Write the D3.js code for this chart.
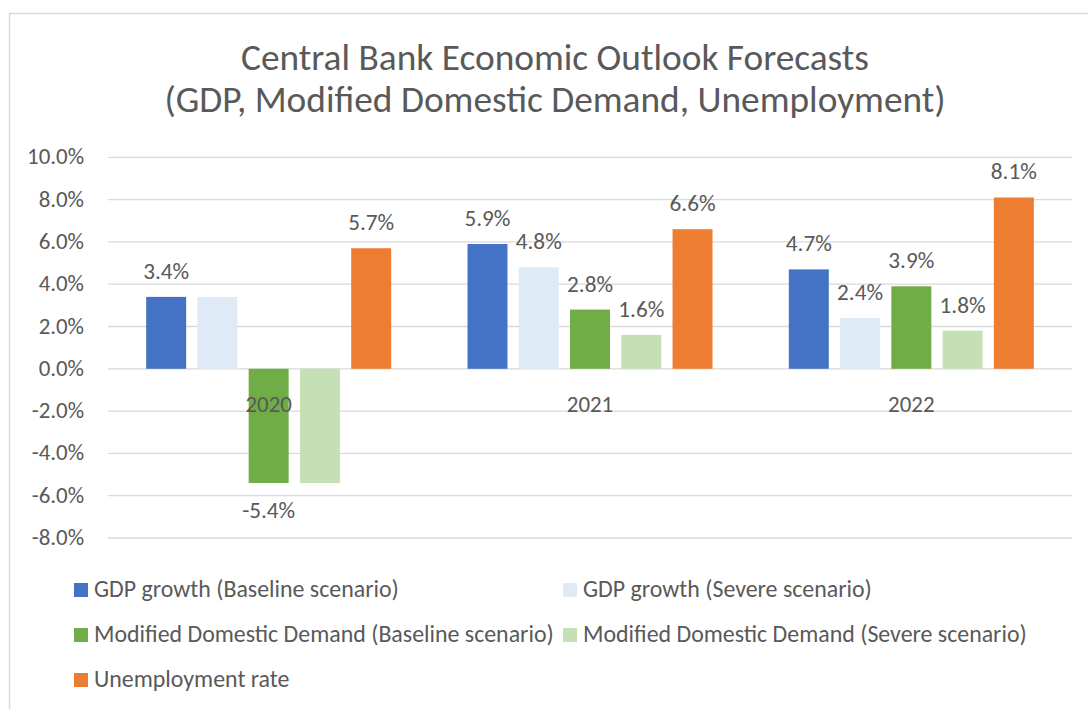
<!DOCTYPE html>
<html lang="en">
<head>
  <meta charset="utf-8">
  <script src="https://d3js.org/d3.v7.min.js"></script>
  <style>
    body { margin: 0; background: #fff; }
    text { fill: #595959; }
  </style>
</head>
<body>
  <div id="chart"></div>
  <script>
  const width = 1088
  const height = 709
  const FONT = "Carlito, Lato, 'Open Sans', sans-serif"

  // data
  const years = ["2020", "2021", "2022"]
  const seriesNames = [
    "GDP growth (Baseline scenario)",
    "GDP growth (Severe scenario)",
    "Modified Domestic Demand (Baseline scenario)",
    "Modified Domestic Demand (Severe scenario)",
    "Unemployment rate"
  ]
  const gdpBaseline = [3.4, 5.9, 4.7]
  const gdpSevere = [3.4, 4.8, 2.4]
  const mddBaseline = [-5.4, 2.8, 3.9]
  const mddSevere = [-5.4, 1.6, 1.8]
  const unemployment = [5.7, 6.6, 8.1]
  const seriesValues = [gdpBaseline, gdpSevere, mddBaseline, mddSevere, unemployment]
  const colors = ["#4472C4", "#DEEBF7", "#70AD47", "#C5E0B4", "#ED7D31"]
  const yTicks = [-8, -6, -4, -2, 0, 2, 4, 6, 8, 10]
  // labels that the original chart hides (they sit on top of a neighbour's label)
  const hiddenLabels = [[1, "2020"], [3, "2020"]]

  const pct = d => d.toFixed(1) + "%"

  const svg = d3.select("#chart").append("svg")
    .attr("width", width)
    .attr("height", height)

  // chart border (cropped on the right and bottom like the screenshot)
  svg.append("rect")
    .attr("x", 9.5).attr("y", 13.5)
    .attr("width", 1200).attr("height", 800)
    .attr("fill", "none")
    .attr("stroke", "#D9D9D9")
    .attr("stroke-width", 1.5)

  function fit(text, target) {
    const t = svg.append("text").style("font-family", FONT).style("font-size", "20px").text(text)
    const w = t.node().getComputedTextLength()
    t.remove()
    return 20 * target / w
  }

  const titleSize = fit("Central Bank Economic Outlook Forecasts", 628)
  const tickSize = fit("10.0%", 57)
  const labelSize = fit("5.9%", 46)
  const legendSize = fit("GDP growth (Baseline scenario)", 305)

  //////////////////////// Title ////////////////////////
  const title = svg.append("text")
    .attr("text-anchor", "middle")
    .style("font-family", FONT)
    .style("font-size", titleSize + "px")
  title.append("tspan").attr("x", 555).attr("y", 70).text("Central Bank Economic Outlook Forecasts")
  title.append("tspan").attr("x", 555).attr("y", 112).text("(GDP, Modified Domestic Demand, Unemployment)")

  //////////////////////// Scales ////////////////////////
  const x0 = d3.scaleBand()
    .domain(years)
    .range([108, 1072])
    .paddingInner(0.2375)
    .paddingOuter(0.2375 / 2)

  const x1 = d3.scaleBand()
    .domain(d3.range(seriesNames.length))
    .range([0, x0.bandwidth()])
    .paddingInner(0.22)

  const y = d3.scaleLinear()
    .domain([-8, 10])
    .range([538, 157.3])

  //////////////////////// Gridlines + y axis ////////////////////////
  svg.append("g").selectAll("line")
    .data(yTicks)
    .join("line")
    .attr("x1", 108).attr("x2", 1072)
    .attr("y1", d => y(d)).attr("y2", d => y(d))
    .attr("stroke", "#D9D9D9")
    .attr("stroke-width", 1.3)

  svg.append("g").selectAll("text")
    .data(yTicks)
    .join("text")
    .attr("x", 84)
    .attr("y", d => y(d) + 7)
    .attr("text-anchor", "end")
    .style("font-family", FONT)
    .style("font-size", tickSize + "px")
    .text(pct)

  //////////////////////// Bars ////////////////////////
  const barData = []
  years.forEach((yr, i) => {
    seriesValues.forEach((vals, s) => {
      barData.push({ year: yr, s: s, v: vals[i] })
    })
  })

  svg.append("g").selectAll("rect")
    .data(barData)
    .join("rect")
    .attr("x", d => x0(d.year) + x1(d.s))
    .attr("width", x1.bandwidth())
    .attr("y", d => y(Math.max(0, d.v)))
    .attr("height", d => Math.abs(y(d.v) - y(0)))
    .attr("fill", d => colors[d.s])

  // category labels sit just under the zero line
  svg.append("g").selectAll("text")
    .data(years)
    .join("text")
    .attr("x", d => x0(d) + x0.bandwidth() / 2)
    .attr("y", y(0) + 43)
    .attr("text-anchor", "middle")
    .style("font-family", FONT)
    .style("font-size", tickSize + "px")
    .text(d => d)

  //////////////////////// Data labels ////////////////////////
  const isHidden = d => hiddenLabels.some(h => h[0] === d.s && h[1] === d.year)
  svg.append("g").selectAll("text")
    .data(barData.filter(d => !isHidden(d)))
    .join("text")
    .attr("x", d => x0(d.year) + x1(d.s) + x1.bandwidth() / 2)
    .attr("y", d => d.v >= 0 ? y(d.v) - 18 : y(d.v) + 35)
    .attr("text-anchor", "middle")
    .style("font-family", FONT)
    .style("font-size", labelSize + "px")
    .text(d => pct(d.v))

  //////////////////////// Legend ////////////////////////
  const legendPos = [[74, 597], [563, 597], [74, 642], [563, 642], [74, 687]]
  const legend = svg.append("g").selectAll("g")
    .data(seriesNames)
    .join("g")
    .attr("transform", (d, i) => `translate(${legendPos[i][0]},${legendPos[i][1]})`)

  legend.append("rect")
    .attr("x", 0).attr("y", -14)
    .attr("width", 14).attr("height", 14)
    .attr("fill", (d, i) => colors[i])

  legend.append("text")
    .attr("x", 20).attr("y", 0)
    .style("font-family", FONT)
    .style("font-size", legendSize + "px")
    .text(d => d)
  </script>
</body>
</html>
